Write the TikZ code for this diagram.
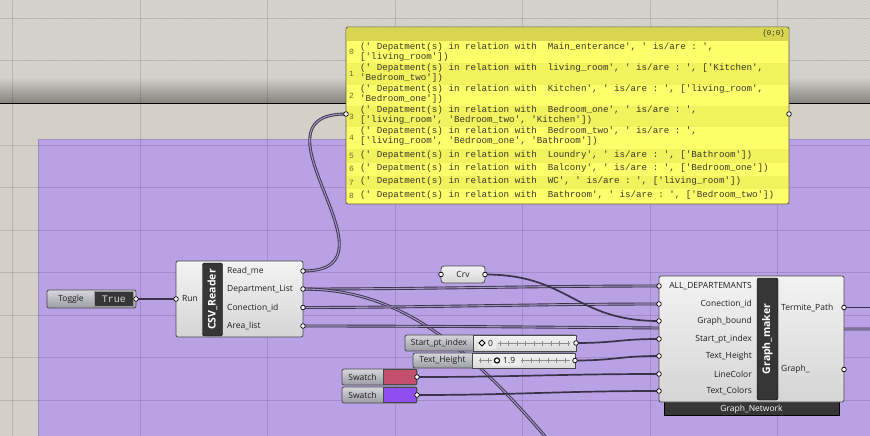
\documentclass[tikz,border=0pt]{standalone}
\usepackage{fontspec}
\setmainfont{Open Sans}
\setmonofont{Liberation Mono}
\usepackage{tikz}
\usetikzlibrary{patterns}
\definecolor{canvasfill}{HTML}{D4D0C8}
\definecolor{topfill}{HTML}{D1CDC7}
\definecolor{topdark}{HTML}{85847F}
\definecolor{groupfill}{HTML}{B9A1E6}
\definecolor{groupline}{HTML}{9C8CC0}
\definecolor{compTop}{HTML}{F3F3F3}
\definecolor{compBot}{HTML}{D5D5D5}
\definecolor{compline}{HTML}{4A4A4A}
\definecolor{barfill}{HTML}{363636}
\definecolor{parTop}{HTML}{D6D6DC}
\definecolor{parBot}{HTML}{9C9CA6}
\definecolor{wirecol}{HTML}{3A3248}
\definecolor{wiremid}{HTML}{A395C2}
\definecolor{panelfill}{HTML}{FFFF6B}
\definecolor{panelalt}{HTML}{F2F25E}
\definecolor{paneltitle}{HTML}{D9D54E}
\definecolor{panelline}{HTML}{5A5A40}
\definecolor{rowtext}{HTML}{3A3A28}
\definecolor{idxtext}{HTML}{6A6A30}
\definecolor{lbltext}{HTML}{1E1E1E}
\definecolor{swpink}{HTML}{C4506E}
\definecolor{swviolet}{HTML}{8F4FF0}
\pgfdeclarelayer{canvas}
\pgfdeclarelayer{wires}
\pgfsetlayers{canvas,wires,main}
\newcommand{\deptxt}{(' Depatment(s) in relation with\ \ }
\begin{document}
\begin{tikzpicture}[x=1pt,y=-1pt,
  comp/.style={draw=compline,line width=0.8pt,rounded corners=2pt,top color=compTop,bottom color=compBot,inner sep=0pt},
  labelbar/.style={draw=black,fill=barfill,rounded corners=2pt,inner sep=0pt},
  bartext/.style={rotate=90,text=white,inner sep=0pt,font=\bfseries\fontsize{10.5}{12}\selectfont},
  param/.style={draw=compline,line width=0.8pt,rounded corners=2pt,top color=parTop,bottom color=parBot,inner sep=0pt},
  slide/.style={draw=compline,line width=0.6pt,top color=white!95!black,bottom color=white!85!black,inner sep=0pt},
  port/.style={circle,draw=black,fill=white,line width=0.7pt,inner sep=0pt,minimum size=4.6pt},
  lbl/.style={font=\fontsize{8.5}{10}\selectfont,text=lbltext,inner sep=0pt},
  wire/.style={draw=wirecol,line width=1.7pt},
  listwire/.style={draw=wirecol,double=wiremid,line width=0.9pt,double distance=1.1pt},
  row/.style={font=\ttfamily\fontsize{9.2}{10}\selectfont,text=rowtext,align=left,anchor=west,inner sep=0pt},
  idx/.style={font=\ttfamily\fontsize{8}{10}\selectfont,text=idxtext,inner sep=0pt}]
\useasboundingbox (0,0) rectangle (870,436);

% canvas
\begin{pgfonlayer}{canvas}
\fill[canvasfill] (0,0) rectangle (870,436);
\fill[topfill] (0,0) rectangle (870,103);
\fill[pattern=north east lines,pattern color=topfill!75!white] (0,0) rectangle (870,80);
\shade[top color=topfill,bottom color=topdark] (0,78) rectangle (870,103);
\draw[black,line width=1pt] (0,103) -- (870,103);
\fill[groupfill,draw=groupline,line width=0.8pt] (38,139) rectangle (880,445);
\foreach \gx in {12.5,140,267.5,395,522.5,650,777.5}
  \draw[black,opacity=0.12,line width=0.6pt] (\gx,0) -- (\gx,436);
\foreach \gy in {18,60,145,187.5,230,272.5,315,357.5,400}
  \draw[black,opacity=0.12,line width=0.6pt] (0,\gy) -- (870,\gy);
\end{pgfonlayer}

% panel
\node at (567.5,115.5) [draw=panelline,line width=0.8pt,fill=panelfill,rounded corners=2pt,minimum width=443,minimum height=177,inner sep=0pt] (panel) {};
\fill[paneltitle] (347,28) rectangle (788,41);
\foreach \ya/\yb/\c in {41/63/panelfill,63/85/panelalt,85/106/panelfill,106/127/panelalt,127/149/panelfill,149/163/panelalt,163/176/panelfill,176/189/panelalt,189/203/panelfill}
  \fill[\c] (347,\ya) rectangle (788,\yb);
\node at (785,34) [anchor=east,font=\ttfamily\fontsize{7.5}{9}\selectfont,text=rowtext,inner sep=0pt] (paneltitle) {\{0;0\}};
\node at (351.5,52) [idx] (i0) {0};
\node at (351.5,74) [idx] (i1) {1};
\node at (351.5,95.5) [idx] (i2) {2};
\node at (351.5,116.5) [idx] (i3) {3};
\node at (351.5,138) [idx] (i4) {4};
\node at (351.5,155.5) [idx] (i5) {5};
\node at (351.5,169) [idx] (i6) {6};
\node at (351.5,182.5) [idx] (i7) {7};
\node at (351.5,196) [idx] (i8) {8};
\node at (360,51.7) [row] (r0) {\deptxt Main\_enterance', ' is/are : ',\\{}['living\_room'])};
\node at (360,72.8) [row] (r1) {\deptxt living\_room', ' is/are : ', ['Kitchen',\\{}'Bedroom\_two'])};
\node at (360,94.3) [row] (r2) {\deptxt Kitchen', ' is/are : ', ['living\_room',\\{}'Bedroom\_one'])};
\node at (360,115.3) [row] (r3) {\deptxt Bedroom\_one', ' is/are : ',\\{}['living\_room', 'Bedroom\_two', 'Kitchen'])};
\node at (360,136.3) [row] (r4) {\deptxt Bedroom\_two', ' is/are : ',\\{}['living\_room', 'Bedroom\_one', 'Bathroom'])};
\node at (360,154.7) [row] (r5) {\deptxt Loundry', ' is/are : ', ['Bathroom'])};
\node at (360,168) [row] (r6) {\deptxt Balcony', ' is/are : ', ['Bedroom\_one'])};
\node at (360,181.3) [row] (r7) {\deptxt WC', ' is/are : ', ['living\_room'])};
\node at (360,195) [row] (r8) {\deptxt Bathroom', ' is/are : ', ['Bedroom\_two'])};
\node at (346,114) [port] (panelin) {};
\node at (789,114) [port] (panelout) {};

% toggle
\node at (91.5,299) [param,minimum width=89,minimum height=18] (toggle) {};
\node at (71,299) [lbl] (togglelbl) {Toggle};
\node at (114,299) [draw=white!60!black,fill=barfill,line width=0.6pt,minimum width=39,minimum height=15,inner sep=0pt,font=\ttfamily\fontsize{10}{12}\selectfont,text=white!82!black] (true) {True};
\node at (136,299) [port] (toggleout) {};

% csv reader
\node at (239.5,299) [comp,minimum width=127,minimum height=76] (csv) {};
\node at (212.5,299.5) [labelbar,minimum width=20,minimum height=73] (csvbar) {};
\node at (212.5,299.5) [bartext] (csvtitle) {CSV\_Reader};
\node at (182,299) [lbl,anchor=west] (runlbl) {Run};
\node at (227,271) [lbl,anchor=west] (readmelbl) {Read\_me};
\node at (227,289) [lbl,anchor=west] (deptlbl) {Department\_List};
\node at (227,307.5) [lbl,anchor=west] (conlbl) {Conection\_id};
\node at (227,326) [lbl,anchor=west] (arealbl) {Area\_list};
\node at (176,299) [port] (run) {};
\node at (303,271) [port] (readme) {};
\node at (303,289) [port] (deptlist) {};
\node at (303,307.5) [port] (conid) {};
\node at (303,326) [port] (arealist) {};

% crv
\node at (463,274.5) [comp,rounded corners=3pt,minimum width=44,minimum height=17] (crv) {};
\node at (463,274.5) [lbl] (crvlbl) {Crv};
\node at (441,274.5) [port] (crvin) {};
\node at (485,274.5) [port] (crvout) {};

% sliders
\node at (490.5,343) [param,minimum width=171,minimum height=16] (start) {};
\node at (524.5,343) [slide,minimum width=103,minimum height=16] (starttrack) {};
\node at (439,343) [lbl] (startlbl) {Start\_pt\_index};
\draw[white!55!black,line width=0.4pt] (498,343) -- (570,343);
\foreach \tx in {500,508.5,...,570} \draw[white!55!black,line width=0.5pt] (\tx,340.5) -- (\tx,345.5);
\fill[white!93!black] (478,337) rectangle (496,349);
\draw[black,line width=0.9pt] (482,340) -- (485,343) -- (482,346) -- (479,343) -- cycle;
\node at (488,343) [lbl,anchor=west] (startval) {0};
\node at (576,343) [port] (startout) {};

\node at (494,360.5) [param,minimum width=162,minimum height=15] (height) {};
\node at (523.5,360.5) [slide,minimum width=103,minimum height=15] (heighttrack) {};
\node at (442.5,360.5) [lbl] (heightlbl) {Text\_Height};
\draw[white!55!black,line width=0.4pt] (479,360.5) -- (570,360.5);
\foreach \tx in {480,488.5,522.5,531,539.5,548,556.5,565} \draw[white!55!black,line width=0.5pt] (\tx,358) -- (\tx,363);
\fill[white!93!black] (492,355) rectangle (521,366);
\draw[black,fill=white,line width=1.1pt] (497,360.5) circle (2.6);
\node at (503,360.5) [lbl,anchor=west] (heightval) {1.9};
\node at (575,360.5) [port] (heightout) {};

% swatches
\node at (379.5,377) [param,minimum width=75,minimum height=16] (sw1) {};
\node at (399.5,377) [draw=compline,line width=0.6pt,fill=swpink,minimum width=33,minimum height=15,inner sep=0pt] (sw1col) {};
\node at (362.5,377) [lbl] (sw1lbl) {Swatch};
\node at (417,377) [port] (sw1out) {};
\node at (379.5,395) [param,minimum width=75,minimum height=16] (sw2) {};
\node at (399.5,395) [draw=compline,line width=0.6pt,fill=swviolet,minimum width=33,minimum height=15,inner sep=0pt] (sw2col) {};
\node at (362.5,395) [lbl] (sw2lbl) {Swatch};
\node at (417,395) [port] (sw2out) {};

% graph maker
\node at (751.5,407.5) [fill=barfill,draw=black,line width=0.6pt,minimum width=175,minimum height=16,inner sep=0pt] (gfoot) {};
\node at (751.5,409.5) [lbl,text=white] (gfootlbl) {Graph\_Network};
\node at (751.5,339) [comp,minimum width=185,minimum height=126] (graph) {};
\node at (767.5,339) [labelbar,minimum width=21,minimum height=122] (graphbar) {};
\node at (767.5,339) [bartext] (graphtitle) {Graph\_maker};
\node at (752,286) [lbl,anchor=east] (alldeplbl) {ALL\_DEPARTEMANTS};
\node at (752,304) [lbl,anchor=east] (gconlbl) {Conection\_id};
\node at (752,321) [lbl,anchor=east] (gboundlbl) {Graph\_bound};
\node at (752,339) [lbl,anchor=east] (gstartlbl) {Start\_pt\_index};
\node at (752,356) [lbl,anchor=east] (gheightlbl) {Text\_Height};
\node at (752,374) [lbl,anchor=east] (glinelbl) {LineColor};
\node at (752,391) [lbl,anchor=east] (gtextlbl) {Text\_Colors};
\node at (781,307.5) [lbl,anchor=west] (termitelbl) {Termite\_Path};
\node at (781,369.5) [lbl,anchor=west] (graphoutlbl) {Graph\_};
\node at (659,286) [port] (alldep) {};
\node at (659,304) [port] (gcon) {};
\node at (659,321) [port] (gbound) {};
\node at (659,339) [port] (gstart) {};
\node at (659,356) [port] (gheight) {};
\node at (659,374) [port] (gline) {};
\node at (659,391) [port] (gtext) {};
\node at (844,307.5) [port] (termite) {};
\node at (844,369.5) [port] (graphout) {};

\coordinate (offbottom) at (565,460);
\coordinate (offright) at (885,307.5);
\coordinate (offarea) at (885,329);

% wires
\begin{pgfonlayer}{wires}
\draw[wire] (toggleout.center) -- (run.center);
\draw[listwire] (readme.center) .. controls +(105,0) and +(-105,0) .. (panelin.center);
\draw[listwire] (deptlist.center) .. controls +(120,0) and +(-120,0) .. (alldep.center);
\draw[listwire] (deptlist.center) .. controls (400,289) and (470,345) .. (offbottom);
\draw[listwire] (conid.center) .. controls +(120,0) and +(-120,0) .. (gcon.center);
\draw[listwire] (arealist.center) .. controls +(200,0) and +(-200,0) .. (offarea);
\draw[wire] (crvout.center) .. controls +(85,0) and +(-85,0) .. (gbound.center);
\draw[wire] (startout.center) .. controls +(40,0) and +(-40,0) .. (gstart.center);
\draw[wire] (heightout.center) .. controls +(40,0) and +(-40,0) .. (gheight.center);
\draw[wire] (sw1out.center) .. controls +(100,0) and +(-100,0) .. (gline.center);
\draw[wire] (sw2out.center) .. controls +(100,0) and +(-100,0) .. (gtext.center);
\draw[wire] (termite.center) -- (offright);
\end{pgfonlayer}
\end{tikzpicture}
\end{document}
